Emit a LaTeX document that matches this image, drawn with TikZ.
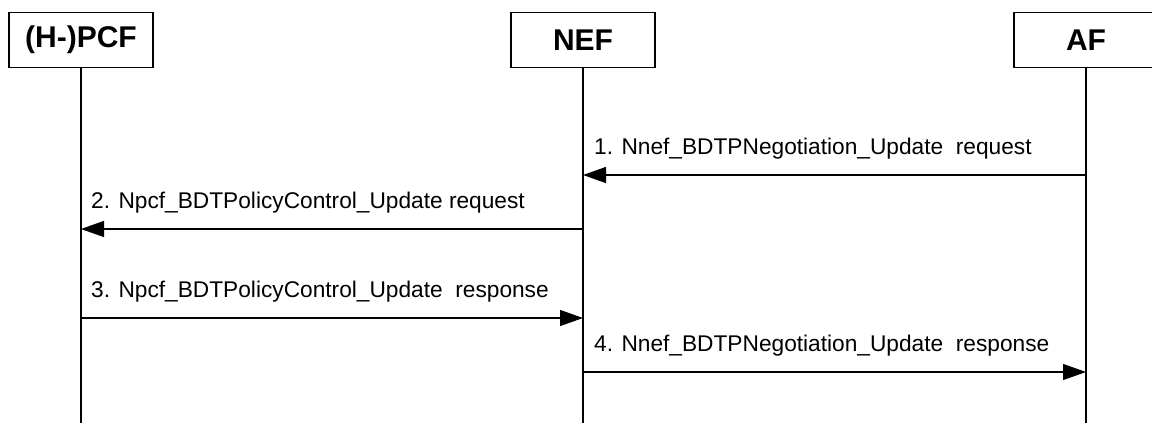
\documentclass[tikz,border=0pt]{standalone}
\usepackage{fontspec}
\setmainfont{Liberation Sans}
\usetikzlibrary{positioning,calc}
\usetikzlibrary{arrows.meta}
\tikzset{
  actor/.style={draw=black,line width=1.3pt,minimum width=144pt,minimum height=55pt,
    inner sep=0pt,font=\fontsize{30}{34}\selectfont\bfseries},
  life/.style={draw=black,line width=1.3pt},
  msg/.style={draw=black,line width=1.3pt,-{Triangle[length=23pt,width=16pt]}},
  lbl/.style={anchor=base west,inner sep=0pt,font=\fontsize{22.7}{26}\selectfont},
}

\begin{document}
\begin{tikzpicture}[x=1pt,y=-1pt]
\useasboundingbox (0,0) rectangle (1152,423);
\node[actor] (pcf) at (81,40) {(H-)PCF};
\node[actor] (nef) at (583,40) {NEF};
\node[actor] (af) at (1086,40) {AF};
\coordinate (pcfend) at (81,423);
\coordinate (nefend) at (583,423);
\coordinate (afend) at (1086,423);
\draw[life] (pcf.south)--(pcfend);
\draw[life] (nef.south)--(nefend);
\draw[life] (af.south)--(afend);
\coordinate (af1) at (1086,175);
\coordinate (nef1) at (583,175);
\coordinate (nef2) at (583,229);
\coordinate (pcf2) at (81,229);
\coordinate (pcf3) at (81,318);
\coordinate (nef3) at (583,318);
\coordinate (nef4) at (583,372);
\coordinate (af4) at (1086,372);
\draw[msg] (af1)--(nef1);
\draw[msg] (nef2)--(pcf2);
\draw[msg] (pcf3)--(nef3);
\draw[msg] (nef4)--(af4);
\node[lbl] (t1) at (594,154) {1. Nnef\_BDTPNegotiation\_Update\ \ request};
\node[lbl] (t2) at (91,208) {2. Npcf\_BDTPolicyControl\_Update request};
\node[lbl] (t3) at (91,297) {3. Npcf\_BDTPolicyControl\_Update\ \ response};
\node[lbl] (t4) at (594,351) {4. Nnef\_BDTPNegotiation\_Update\ \ response};
\end{tikzpicture}
\end{document}
